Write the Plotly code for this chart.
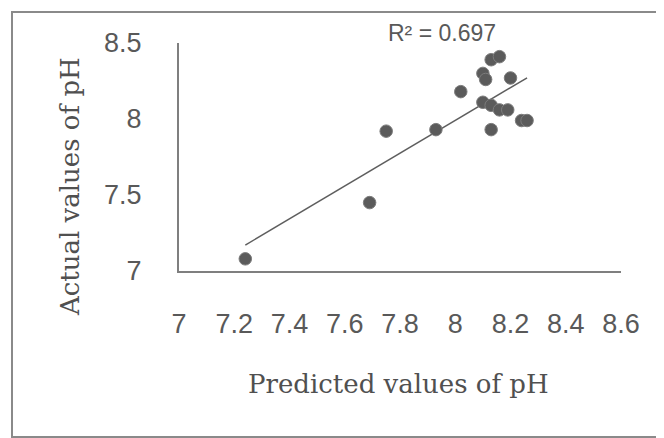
import numpy as np
import plotly.graph_objects as go

# Data
predicted_ph = [7.24, 7.69, 7.75, 7.93, 8.02, 8.10, 8.11, 8.13, 8.16, 8.20,
                8.10, 8.13, 8.16, 8.19, 8.24, 8.26, 8.13]
actual_ph = [7.08, 7.45, 7.92, 7.93, 8.18, 8.30, 8.26, 8.39, 8.41, 8.27,
             8.11, 8.09, 8.06, 8.06, 7.99, 7.99, 7.93]
x_ticks = [7, 7.2, 7.4, 7.6, 7.8, 8, 8.2, 8.4, 8.6]
x_tick_labels = ["7", "7.2", "7.4", "7.6", "7.8", "8", "8.2", "8.4", "8.6"]
y_ticks = [7, 7.5, 8, 8.5]
y_tick_labels = ["7", "7.5", "8", "8.5"]
r2_label = "R² = 0.697"

# Linear trendline (least squares)
slope, intercept = np.polyfit(predicted_ph, actual_ph, 1)
tx = np.array([min(predicted_ph), max(predicted_ph)])
ty = slope * tx + intercept

fig = go.Figure()
fig.add_trace(go.Scatter(
    x=tx, y=ty, mode="lines",
    line=dict(color="#5e5e5e", width=1.5),
    showlegend=False, hoverinfo="skip"))
fig.add_trace(go.Scatter(
    x=predicted_ph, y=actual_ph, mode="markers",
    marker=dict(size=12.5, color="#5b5b5b", line=dict(color="#7c7c7c", width=1)),
    showlegend=False))

# page body margin offsets the figure by 8px; work in screen pixels
OFF = 8
W, H = 664, 438 - OFF
SL, SR, ST, SB = 179, 621, 43, 271  # plot area edges on screen
L = SL - OFF
T = ST - OFF
R = W - (SR - OFF)
B = H - (SB - OFF)
pw = SR - SL
ph = SB - ST

def px(xs):
    return (xs - SL) / pw

def py(ys):
    return (SB - ys) / ph

fig.update_layout(
    width=W, height=H,
    margin=dict(l=L, r=R, t=T, b=B, pad=0),
    paper_bgcolor="white", plot_bgcolor="white",
    showlegend=False,
    xaxis=dict(
        range=[7, 8.6], tickvals=x_ticks, ticktext=x_tick_labels,
        showgrid=False, zeroline=False,
        showline=True, linecolor="#7f7f7f", linewidth=2,
        ticks="", ticklabelstandoff=28,
        tickfont=dict(family="Liberation Sans", size=27, color="#595959")),
    yaxis=dict(
        range=[7, 8.5], tickvals=y_ticks, ticktext=y_tick_labels,
        showgrid=False, zeroline=False,
        showline=True, linecolor="#7f7f7f", linewidth=2,
        ticks="", ticklabelstandoff=30,
        tickfont=dict(family="Liberation Sans", size=27, color="#595959")),
    annotations=[
        dict(text=r2_label, xref="paper", yref="paper",
             x=px(442), y=py(33), xanchor="center", yanchor="middle",
             showarrow=False,
             font=dict(family="Liberation Sans", size=23, color="#595959")),
        dict(text="Predicted values of pH", xref="paper", yref="paper",
             x=px(398), y=py(384), xanchor="center", yanchor="middle",
             showarrow=False,
             font=dict(family="DejaVu Serif", size=26, color="#505050")),
        dict(text="Actual values of pH", xref="paper", yref="paper",
             x=px(70), y=py(187), xanchor="center", yanchor="middle",
             textangle=-90, showarrow=False,
             font=dict(family="DejaVu Serif", size=26, color="#505050")),
    ],
    shapes=[
        dict(type="rect", xref="paper", yref="paper",
             x0=px(12), x1=px(700), y0=py(437), y1=py(12),
             line=dict(color="#8a8a8a", width=2), fillcolor="rgba(0,0,0,0)"),
    ],
)

fig.write_html("out.html")
